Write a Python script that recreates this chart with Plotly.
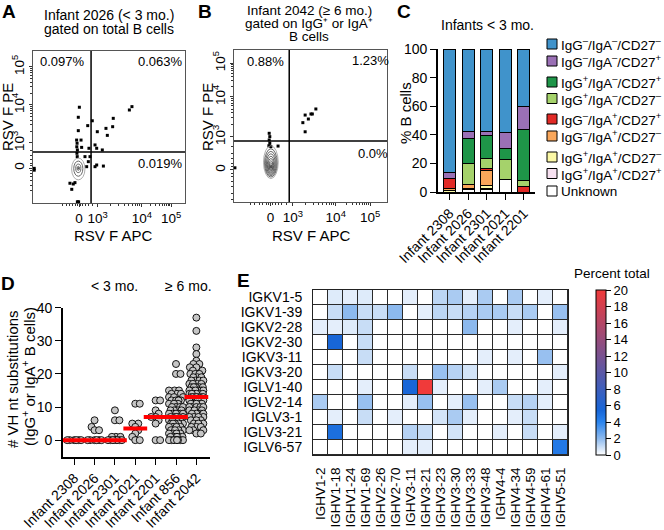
import numpy as np
import plotly.graph_objects as go

W, H = 664, 530
FONT = "Liberation Sans, Arial, Helvetica, sans-serif"


def px_x(p):
    return p / W


def px_y(p):
    return 1 - p / H


# ---------------- Panel A : flow plot (display channel units 0-1000) ----------------
a_dot_x = [305, 298, 390, 360, 298, 423, 480, 489, 528, 524, 634, 651,
           287, 290, 288, 292, 289, 291, 316, 320, 368, 408, 419, 456,
           342, 375, 364, 353, 408, 419, 463, 243, 265, 255, 276, 8, 8, 300, 292]
a_dot_y = [630, 564, 541, 509, 476, 469, 491, 445, 557, 502, 612, 634,
           414, 393, 370, 349, 327, 305, 414, 366, 360, 382, 360, 349,
           305, 305, 272, 239, 239, 250, 243, 130, 125, 90, 134, 228, 216, 8, 8]
a_cont_cx = [298, 298, 298, 298, 298]
a_cont_cy = [224, 226, 228, 228, 228]
a_cont_rx = [44, 30, 17, 8, 3]
a_cont_ry = [72, 50, 28, 13, 5]
a_gate_x, a_gate_y = 382, 336
a_xtick_pos = [303, 425, 717, 908]
a_ytick_pos = [230, 395, 645, 895]
a_quadrants = ["0.097%", "0.063%", "0.019%"]

# ---------------- Panel B ----------------
b_dot_x = [450, 465, 486, 512, 465, 503, 535, 230, 234, 230, 234, 241, 228, 288, 6]
b_dot_y = [522, 462, 546, 579, 572, 579, 612, 452, 430, 408, 386, 364, 370, 368, 225]
b_cont_cx = [241, 241, 241, 241, 241, 241, 241, 241, 241, 241]
b_cont_cy = [262, 257, 253, 249, 245, 241, 238, 235, 233, 232]
b_cont_rx = [48, 41, 35, 29, 23, 18, 13, 9, 5, 2.5]
b_cont_ry = [108, 93, 80, 68, 56, 45, 34, 24, 14, 6]
b_gate_x, b_gate_y = 361, 401
b_xtick_pos = [239, 385, 665, 890]
b_ytick_pos = [211, 428, 691, 914]
b_quadrants = ["0.88%", "1.23%", "0.0%"]

flow_ticktext = ["0", "10<sup>3</sup>", "10<sup>4</sup>", "10<sup>5</sup>"]

# ---------------- Panel C : stacked bars ----------------
c_infants = ["Infant 2308", "Infant 2026", "Infant 2301", "Infant 2021", "Infant 2201"]
c_unknown = [0, 2, 2, 8.4, 0]
c_pos_pos_p = [0, 0, 0.5, 0, 0]        # IgG+/IgA+/CD27+
c_pos_pos_n = [1, 0.5, 2, 0, 0]        # IgG+/IgA+/CD27-
c_neg_pos_n = [1.5, 2.5, 10.5, 0, 0]   # IgG-/IgA+/CD27-
c_neg_pos_p = [7, 0, 1.6, 0, 3.7]      # IgG-/IgA+/CD27+
c_pos_neg_n = [0, 15, 6.5, 14, 4]      # IgG+/IgA-/CD27-
c_pos_neg_p = [0, 17.5, 16.4, 8.1, 36]  # IgG+/IgA-/CD27+
c_neg_neg_p = [4, 4.7, 2.8, 11, 16]    # IgG-/IgA-/CD27+
c_neg_neg_n = [86.5, 57.8, 57.7, 58.5, 40.3]  # IgG-/IgA-/CD27-
c_yticks = [0, 20, 40, 60, 80, 100]

# ---------------- Panel D : VH substitutions ----------------
d_infants = ["Infant 2308", "Infant 2026", "Infant 2301", "Infant 2021",
             "Infant 2201", "Infant 856", "Infant 2042"]
d_2308 = [0, 0, 0, 0, 0, 0]
d_2026 = [6, 4, 3, 3, 0, 0, 0, 0, 0, 0]
d_2301 = [9, 6, 6, 1, 1, 1, 0, 0, 0, 0, 0, 0, 0]
d_2021 = [11, 11, 5, 5, 4, 3, 2, 1, 0, 0]
d_2201 = [12, 12, 9, 8, 7, 7, 6, 5, 0, 0]
d_856 = [23, 20, 20, 15, 15, 15, 14, 14, 14, 13, 13, 13, 12, 12, 12, 12, 11, 11, 11,
         10, 10, 10, 10, 9, 9, 9, 9, 8, 8, 8, 8, 8, 7, 7, 7, 7, 7, 6, 6, 6, 6,
         5, 5, 5, 5, 5, 4, 4, 4, 4, 3, 3, 3, 3, 2, 2, 2, 2, 1, 1, 1, 1, 1,
         0, 0, 0, 0, 0, 0, 0, 0]
d_2042 = [37, 33, 28, 26, 24, 23, 23, 22, 22, 21, 21, 20, 20, 20, 19, 19, 19,
          18, 18, 18, 18, 17, 17, 17, 17, 16, 16, 16, 16, 16, 15, 15, 15, 15, 15, 15,
          14, 14, 14, 14, 14, 14, 13, 13, 13, 13, 13, 13, 13, 12, 12, 12, 12, 12, 12,
          11, 11, 11, 11, 11, 10, 10, 10, 10, 10, 9, 9, 9, 9, 8, 8, 8, 8,
          7, 7, 7, 7, 6, 6, 6, 5, 5, 5, 4, 4, 4, 3, 3, 3, 2, 2]
d_groups = [d_2308, d_2026, d_2301, d_2021, d_2201, d_856, d_2042]
d_yticks = [0, 10, 20, 30, 40]

# ---------------- Panel E : heatmap ----------------
e_vh = ["IGHV1-2", "IGHV1-18", "IGHV1-24", "IGHV1-69", "IGHV2-26", "IGHV2-70",
        "IGHV3-11", "IGHV3-21", "IGHV3-23", "IGHV3-30", "IGHV3-33", "IGHV3-48",
        "IGHV4-4", "IGHV4-34", "IGHV4-59", "IGHV4-61", "IGHV5-51"]
e_vl = ["IGKV1-5", "IGKV1-39", "IGKV2-28", "IGKV2-30", "IGKV3-11", "IGKV3-20",
        "IGLV1-40", "IGLV2-14", "IGLV3-1", "IGLV3-21", "IGLV6-57"]
e_igkv1_5 = [0, 0.6, 0.5, 0.6, 0, 0, 0.5, 0, 1.2, 1.5, 0.5, 1.5, 0, 1.5, 0, 0.5, 0]
e_igkv1_39 = [0, 1.0, 2.0, 1.0, 1.0, 2.0, 0, 0.5, 1.2, 1.0, 1.3, 1.5, 1.5, 1.0, 1.5, 0, 1.8]
e_igkv2_28 = [0.5, 0.5, 0.6, 1.0, 0, 0, 0, 0, 0, 0, 2.0, 0, 0, 0.5, 0, 0, 0.5]
e_igkv2_30 = [0, 5.5, 0, 1.0, 0, 0, 0, 0, 0, 0, 0, 0, 0, 0, 0, 0, 0]
e_igkv3_11 = [0, 0, 0, 1.0, 0, 0, 0, 0, 0, 0, 0, 0.5, 0, 0.5, 0, 1.8, 0]
e_igkv3_20 = [0, 1.0, 0, 0, 0, 0, 1.0, 0, 1.8, 1.3, 0.8, 0, 0, 0, 0, 0, 0.5]
e_iglv1_40 = [0, 0, 0, 0.5, 0, 0, 5.5, 20, 0.5, 0, 0, 0.5, 1.5, 0, 0, 0.5, 0]
e_iglv2_14 = [1.5, 0, 0, 1.8, 0, 0, 0.5, 1.8, 0, 0.5, 1.8, 0, 0, 1.0, 1.3, 0.5, 0]
e_iglv3_1 = [0, 0.5, 0, 1.0, 0, 0.5, 0, 0, 0.8, 1.5, 0.5, 0, 0, 0.5, 1.0, 0, 0]
e_iglv3_21 = [0, 5.0, 0, 0, 0, 0, 1.3, 1.0, 0, 0.8, 0, 0, 0.5, 0, 1.0, 0, 0.5]
e_iglv6_57 = [0, 0, 0, 0, 0, 0, 0.5, 0.5, 0, 0, 0, 0, 0, 0, 0, 0, 4.5]
e_z = [e_igkv1_5, e_igkv1_39, e_igkv2_28, e_igkv2_30, e_igkv3_11, e_igkv3_20,
       e_iglv1_40, e_iglv2_14, e_iglv3_1, e_iglv3_21, e_iglv6_57]
e_cbar_ticks = [0, 2, 4, 6, 8, 10, 12, 14, 16, 18, 20]

# ================= figure =================
fig = go.Figure()


def flow_minor(p):
    p0, p3, p4, p5 = p
    out = []
    for a, b in [(p3, p4), (p4, p5)]:
        out += [a + np.log10(k) * (b - a) for k in range(2, 10)]
    lin = p3 - p0
    out += [p0 + f * lin for f in (-0.9, -0.7, -0.5, -0.35, -0.2, -0.1, 0.1, 0.2, 0.35, 0.5, 0.7)]
    return [v for v in out if 0 < v < 1000]


shapes = []
for (dx, dy, cx, cy, rx, ry, gx, gy, xr, yr) in [
        (a_dot_x, a_dot_y, a_cont_cx, a_cont_cy, a_cont_rx, a_cont_ry, a_gate_x, a_gate_y, "x", "y"),
        (b_dot_x, b_dot_y, b_cont_cx, b_cont_cy, b_cont_rx, b_cont_ry, b_gate_x, b_gate_y, "x2", "y2")]:
    fig.add_trace(go.Scatter(x=dx, y=dy, mode="markers", xaxis=xr, yaxis=yr,
                             marker=dict(symbol="square", size=3, color="black"),
                             showlegend=False, hoverinfo="skip"))
    n = len(rx)
    for i in range(n):
        last = i == n - 1
        shapes.append(dict(type="circle", xref=xr, yref=yr,
                           x0=cx[i] - rx[i], x1=cx[i] + rx[i], y0=cy[i] - ry[i], y1=cy[i] + ry[i],
                           line=dict(color="#999" if i == 0 else "#444", width=0.8),
                           fillcolor="#333" if last else "rgba(0,0,0,0)"))
    shapes.append(dict(type="line", xref=xr, yref=yr, x0=gx, x1=gx, y0=0, y1=1000,
                       line=dict(color="black", width=1.5)))
    shapes.append(dict(type="line", xref=xr, yref=yr, x0=0, x1=1000, y0=gy, y1=gy,
                       line=dict(color="black", width=1.5)))

# ---- C stacked bars (bottom to top); legend row = position in legend (top first) ----
c_series = [
    ("Unknown", c_unknown, "#ffffff", 8),
    ("IgG<sup>+</sup>/IgA<sup>+</sup>/CD27<sup>+</sup>", c_pos_pos_p, "#f7e1f1", 7),
    ("IgG<sup>+</sup>/IgA<sup>+</sup>/CD27<sup>–</sup>", c_pos_pos_n, "#fbf8a6", 6),
    ("IgG<sup>–</sup>/IgA<sup>+</sup>/CD27<sup>–</sup>", c_neg_pos_n, "#f9a65a", 5),
    ("IgG<sup>–</sup>/IgA<sup>+</sup>/CD27<sup>+</sup>", c_neg_pos_p, "#e12a26", 4),
    ("IgG<sup>+</sup>/IgA<sup>–</sup>/CD27<sup>–</sup>", c_pos_neg_n, "#a5d26b", 3),
    ("IgG<sup>+</sup>/IgA<sup>–</sup>/CD27<sup>+</sup>", c_pos_neg_p, "#1e9548", 2),
    ("IgG<sup>–</sup>/IgA<sup>–</sup>/CD27<sup>+</sup>", c_neg_neg_p, "#9a70b5", 1),
    ("IgG<sup>–</sup>/IgA<sup>–</sup>/CD27<sup>–</sup>", c_neg_neg_n, "#4093cb", 0),
]
legend_rows_py = [44, 61, 82, 98.5, 119, 136, 157, 173.5, 191]

for name, vals, col, row in c_series:
    fig.add_trace(go.Bar(x=list(range(len(c_infants))), y=vals, name=name, xaxis="x3", yaxis="y3",
                         marker=dict(color=col, line=dict(color="black", width=1)),
                         width=0.64, showlegend=False, hoverinfo="skip"))


# ---- D beeswarm ----
def beeswarm(vals, py=3.31, pc=20.4, d=4.4, max_off=7.0, step=0.5):
    vals = np.asarray(vals, dtype=float)
    order = np.argsort(vals, kind="stable")
    cands = [0.0]
    k = 1
    while k * step <= max_off:
        cands += [k * step, -k * step]
        k += 1
    placed = []
    offs = np.zeros(len(vals))
    for idx in order:
        yp = vals[idx] * py
        best, best_score, best_c = None, -1, 0.0
        for c in cands:
            md = min([np.hypot(c - a, yp - b) for a, b in placed] or [1e9])
            if md >= d:
                best = c
                break
            if md > best_score:
                best_score, best_c = md, c
        if best is None:
            best = best_c
        placed.append((best, yp))
        offs[idx] = best / pc
    return offs


for i, g in enumerate(d_groups):
    offs = beeswarm(g)
    fig.add_trace(go.Scatter(x=i + offs, y=g, mode="markers", xaxis="x4", yaxis="y4",
                             marker=dict(symbol="circle", size=7, color="#c6c6c6",
                                         line=dict(color="black", width=0.9)),
                             showlegend=False, hoverinfo="skip"))
fig.add_trace(go.Scatter(x=list(range(len(d_groups))), y=[float(np.median(g)) for g in d_groups],
                         mode="markers", xaxis="x4", yaxis="y4",
                         marker=dict(symbol="line-ew", size=17, line=dict(color="#ff0000", width=4)),
                         showlegend=False, hoverinfo="skip"))

# ---- E heatmap ----
shapes.append(dict(type="rect", xref="x5 domain", yref="y5 domain", x0=0, x1=1, y0=0, y1=1,
                   fillcolor="#2a2a2a", line=dict(width=0), layer="below"))
fig.add_trace(go.Heatmap(
    x=e_vh, y=e_vl, z=e_z, xaxis="x5", yaxis="y5", zmin=0, zmax=20, xgap=1, ygap=1,
    colorscale=[[0, "#ffffff"], [0.05, "#c8ddf6"], [0.1, "#8cb9ee"], [0.2, "#2a84ee"],
                [0.27, "#1766d8"], [1, "#f03a3a"]],
    colorbar=dict(x=px_x(596), xanchor="left", xref="paper", y=px_y(372.5), yanchor="middle",
                  yref="paper", len=165, lenmode="pixels", thickness=10, xpad=0, ypad=0,
                  outlinecolor="black", outlinewidth=1, tickvals=e_cbar_ticks,
                  ticks="outside", ticklen=5, tickcolor="black",
                  tickfont=dict(size=13, color="black", family=FONT)),
    hoverinfo="skip"))

# ================= layout =================
tf = dict(size=14, color="black", family=FONT)
tf_flow = dict(size=13.5, color="black", family=FONT)


def flow_axes(dom_x, dom_y, xt, yt, anchor_x, anchor_y):
    xa = dict(domain=dom_x, range=[0, 1000], anchor=anchor_y, showline=True, mirror=True,
              linecolor="#555", linewidth=1, ticks="outside", ticklen=3, tickcolor="#333",
              tickvals=xt, ticktext=flow_ticktext, tickfont=tf_flow, showgrid=False, zeroline=False,
              minor=dict(tickmode="array", tickvals=flow_minor(xt), ticks="outside", ticklen=2,
                         tickcolor="#333"))
    ya = dict(domain=dom_y, range=[0, 1000], anchor=anchor_x, showline=True, mirror=True,
              linecolor="#555", linewidth=1, ticks="outside", ticklen=3, tickcolor="#333",
              tickvals=yt, ticktext=flow_ticktext, tickfont=tf_flow, tickangle=-90,
              showgrid=False, zeroline=False,
              minor=dict(tickmode="array", tickvals=flow_minor(yt), ticks="outside", ticklen=2,
                         tickcolor="#333"))
    return xa, ya


xa1, ya1 = flow_axes([px_x(33), px_x(185)], [px_y(203), px_y(51)], a_xtick_pos, a_ytick_pos, "x", "y")
xa2, ya2 = flow_axes([px_x(234), px_x(387)], [px_y(202), px_y(50)], b_xtick_pos, b_ytick_pos, "x2", "y2")

blk = dict(showline=True, linecolor="black", linewidth=1.6, ticks="outside", tickcolor="black",
           tickwidth=1.4, showgrid=False, zeroline=False, tickfont=tf)

fig.update_layout(
    width=W, height=H, margin=dict(l=0, r=0, t=0, b=0, autoexpand=False),
    paper_bgcolor="white", plot_bgcolor="white",
    font=dict(family=FONT, size=14, color="black"),
    barmode="stack", showlegend=False,
    xaxis=xa1, yaxis=ya1, xaxis2=xa2, yaxis2=ya2,
    xaxis3=dict(domain=[px_x(438), px_x(535)], range=[-0.62, 4.6], anchor="y3",
                tickvals=list(range(len(c_infants))), ticktext=c_infants, tickangle=-45,
                ticklen=6, **blk),
    yaxis3=dict(domain=[px_y(192), px_y(49)], range=[0, 100], anchor="x3",
                tickvals=c_yticks, ticklen=6, **blk),
    xaxis4=dict(domain=[px_x(63), px_x(210)], range=[-0.55, 6.67], anchor="y4",
                tickvals=list(range(len(d_infants))), ticktext=d_infants, tickangle=-45,
                ticklen=6, **blk),
    yaxis4=dict(domain=[px_y(456.7), px_y(307.7)], range=[-5, 40], anchor="x4",
                tickvals=d_yticks, ticklen=6, **blk),
    xaxis5=dict(domain=[px_x(313), px_x(568)], anchor="y5", showline=True, mirror=True,
                linecolor="#222", linewidth=1, ticks="", tickangle=-90,
                tickfont=dict(size=13.5, color="black", family=FONT),
                tickmode="array", tickvals=e_vh, ticktext=e_vh,
                ticklabelstandoff=6, showgrid=False, zeroline=False),
    yaxis5=dict(domain=[px_y(455), px_y(290)], anchor="x5", showline=True, mirror=True,
                linecolor="#222", linewidth=1, ticks="", autorange="reversed", tickfont=tf,
                tickmode="array", tickvals=e_vl, ticktext=e_vl,
                ticklabelstandoff=7, showgrid=False, zeroline=False),
)

# manual legend for panel C (squares + labels)
for name, vals, col, row in c_series:
    yc = legend_rows_py[row]
    shapes.append(dict(type="rect", xref="paper", yref="paper",
                       x0=px_x(547), x1=px_x(557), y0=px_y(yc + 5), y1=px_y(yc - 5),
                       fillcolor=col, line=dict(color="black", width=1)))

fig.update_layout(shapes=shapes)

anns = []


def ann(text, x, y, size=14, bold=False, angle=0, xanchor="center"):
    anns.append(dict(text=("<b>%s</b>" % text) if bold else text, x=px_x(x), y=px_y(y),
                     xref="paper", yref="paper", showarrow=False, textangle=angle,
                     xanchor=xanchor, yanchor="middle",
                     font=dict(size=size, family=FONT, color="black")))


for name, vals, col, row in c_series:
    ann(name, 559, legend_rows_py[row], 13.5, xanchor="left")

# panel letters
ann("A", 9, 12, 19, True)
ann("B", 205, 12, 19, True)
ann("C", 404, 12, 19, True)
ann("D", 8, 283, 19, True)
ann("E", 243, 280, 19, True)
# A
ann("Infant 2026 (&lt; 3 mo.)", 109, 15)
ann("gated on total B cells", 109, 29)
ann("RSV F APC", 113, 235, 15)
ann("RSV F PE", 7, 117, 15, angle=-90)
ann(a_quadrants[0], 62, 62, 13)
ann(a_quadrants[1], 160, 62, 13)
ann(a_quadrants[2], 160, 164, 13)
# B
ann("Infant 2042 (≥ 6 mo.)", 309, 11, 13.5)
ann("gated on IgG⁺ or IgA⁺", 309, 24, 13.5)
ann("B cells", 309, 37, 13.5)
ann("RSV F APC", 311, 235, 15)
ann("RSV F PE", 207, 117, 15, angle=-90)
ann(b_quadrants[0], 265, 62, 13)
ann(b_quadrants[1], 370, 61, 13)
ann(b_quadrants[2], 373, 153, 13)
# C
ann("Infants &lt; 3 mo.", 487, 25)
ann("% B cells", 405, 113, 15, angle=-90)
# D
ann("&lt; 3 mo.", 115, 286)
ann("≥ 6 mo.", 188, 286)
ann("# VH nt substitutions", 12, 379, 15, angle=-90)
ann("(IgG<sup>+</sup> or IgA<sup>+</sup> B cells)", 28, 377, 15, angle=-90)
# E
ann("Percent total", 612, 273, 13.5)

fig.update_layout(annotations=anns)
fig.write_html("out.html", config={"displayModeBar": False},
               post_script="document.body.style.margin='0';document.body.style.padding='0';")
